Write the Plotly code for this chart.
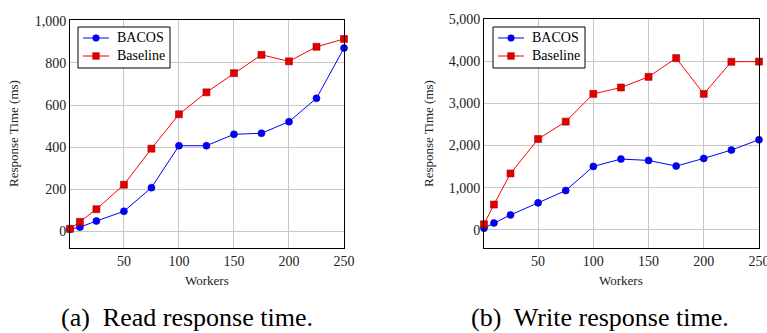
import plotly.graph_objects as go

workers = [1, 10, 25, 50, 75, 100, 125, 150, 175, 200, 225, 250]

read_bacos = [11, 21, 50, 96, 208, 407, 407, 461, 466, 521, 632, 870]
read_baseline = [13, 46, 106, 222, 393, 556, 660, 751, 838, 807, 876, 913]

write_bacos = [40, 166, 357, 642, 935, 1506, 1680, 1648, 1513, 1696, 1894, 2139]
write_baseline = [135, 602, 1339, 2155, 2567, 3225, 3376, 3629, 4073, 3225, 3986, 3990]

x_ticks = [50, 100, 150, 200, 250]
read_yticks = [0, 200, 400, 600, 800, 1000]
write_yticks = [0, 1000, 2000, 3000, 4000, 5000]

captions = ["(a)\u00a0 Read response time.", "(b)\u00a0 Write response time."]
series_names = ["BACOS", "Baseline"]

FONT = "Liberation Serif"
BLUE = "#0000ff"
RED = "#ff0000"
BLUE_EDGE = "#0000b0"
RED_FILL = "#e00000"
RED_EDGE = "#b00000"

fig = go.Figure()

panels = [
    (read_bacos, read_baseline, "x", "y"),
    (write_bacos, write_baseline, "x2", "y2"),
]

for b, bl, xa, ya in panels:
    fig.add_trace(go.Scatter(
        x=workers, y=b, name=series_names[0], mode="lines+markers",
        line=dict(color=BLUE, width=1),
        marker=dict(symbol="circle", size=7, color=BLUE, line=dict(color=BLUE_EDGE, width=0.6)),
        xaxis=xa, yaxis=ya, showlegend=False, cliponaxis=False,
    ))
    fig.add_trace(go.Scatter(
        x=workers, y=bl, name=series_names[1], mode="lines+markers",
        line=dict(color=RED, width=1),
        marker=dict(symbol="square", size=7, color=RED_FILL, line=dict(color=RED_EDGE, width=0.6)),
        xaxis=xa, yaxis=ya, showlegend=False, cliponaxis=False,
    ))

axis_common = dict(
    showline=True, linecolor="black", linewidth=1, mirror=True,
    showgrid=True, gridcolor="#c8c8c8", gridwidth=1,
    zeroline=False, ticks="", ticklabeloverflow="allow",
    tickfont=dict(family=FONT, size=14, color="#222"),
)

fig.update_layout(
    width=767, height=333,
    font=dict(family=FONT),
    margin=dict(l=0, r=0, t=0, b=0, autoexpand=False),
    paper_bgcolor="white", plot_bgcolor="white",
    xaxis=dict(domain=[70/767, 344/767], range=[1, 250], tickvals=x_ticks, anchor="y", **axis_common),
    yaxis=dict(domain=[1-248/333, 1-20/333], range=[-78, 1003], tickvals=read_yticks,
               tickformat=",", anchor="x", **axis_common),
    xaxis2=dict(domain=[484/767, 759/767], range=[1, 250], tickvals=x_ticks, anchor="y2", **axis_common),
    yaxis2=dict(domain=[1-248/333, 1-19/333], range=[-428, 5000], tickvals=write_yticks,
                tickformat=",", anchor="x2", **axis_common),
    showlegend=False,
)

def px(xp):
    return xp / 767

def py(yp):
    return 1 - yp / 333

annotations = []
for cx in [207, 621]:
    annotations.append(dict(text="Workers", x=px(cx), y=py(280), xref="paper", yref="paper",
                            showarrow=False, font=dict(family=FONT, size=13, color="#222"),
                            xanchor="center", yanchor="middle"))
for cx in [13, 428]:
    annotations.append(dict(text="Response Time (ms)", x=px(cx), y=py(134), xref="paper", yref="paper",
                            showarrow=False, textangle=-90, font=dict(family=FONT, size=13, color="#222"),
                            xanchor="center", yanchor="middle"))
for cx, t in zip([187, 600], captions):
    annotations.append(dict(text=t, x=px(cx), y=py(317), xref="paper", yref="paper",
                            showarrow=False, font=dict(family=FONT, size=26, color="black"),
                            xanchor="center", yanchor="middle"))

shapes = []
for lx in [78, 493]:
    shapes.append(dict(type="rect", xref="paper", yref="paper",
                       x0=px(lx), x1=px(lx + 92), y0=py(68), y1=py(27),
                       line=dict(color="black", width=1), fillcolor="white", layer="above"))
    for j, (col, yy) in enumerate([(BLUE, 38), (RED, 56)]):
        shapes.append(dict(type="line", xref="paper", yref="paper",
                           x0=px(lx + 5), x1=px(lx + 31), y0=py(yy), y1=py(yy),
                           line=dict(color=col, width=1), layer="above"))
        annotations.append(dict(text=series_names[j], x=px(lx + 37), y=py(yy), xref="paper", yref="paper",
                                showarrow=False, font=dict(family=FONT, size=14, color="black"),
                                xanchor="left", yanchor="middle"))
    cx = lx + 18
    shapes.append(dict(type="circle", xref="paper", yref="paper",
                       x0=px(cx - 3.3), x1=px(cx + 3.3), y0=py(38 + 3.3), y1=py(38 - 3.3),
                       line=dict(color=BLUE_EDGE, width=0.6), fillcolor=BLUE, layer="above"))
    shapes.append(dict(type="rect", xref="paper", yref="paper",
                       x0=px(cx - 3.3), x1=px(cx + 3.3), y0=py(56 + 3.3), y1=py(56 - 3.3),
                       line=dict(color=RED_EDGE, width=0.6), fillcolor=RED_FILL, layer="above"))

fig.update_layout(annotations=annotations, shapes=shapes)

fig.write_html("out.html")
